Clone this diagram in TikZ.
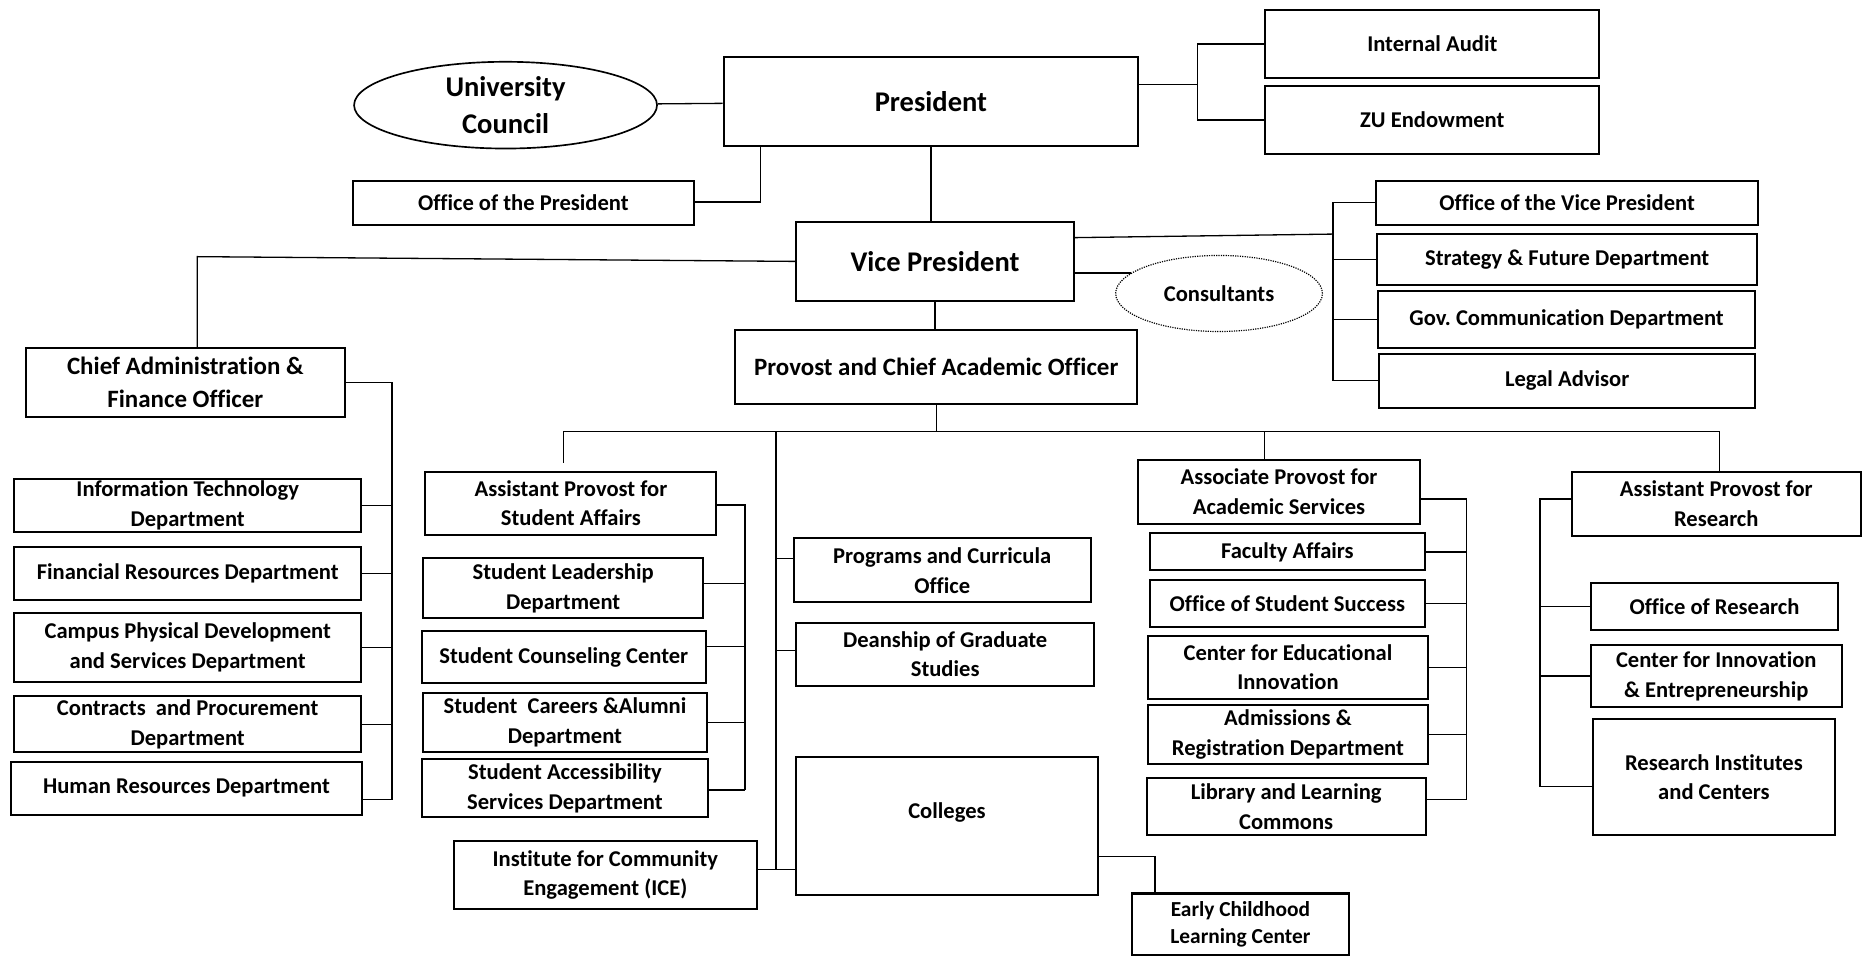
\documentclass[tikz,border=0pt]{standalone}
\usepackage{fontspec}
\setmainfont{Carlito}[Ligatures=NoCommon]
\usepackage{tikz}
\usetikzlibrary{shapes.geometric,positioning}
\frenchspacing

\begin{document}
\begin{tikzpicture}[x=1pt, y=-1pt,
                every node/.append style = {font=\bfseries\fontsize{19}{25}\selectfont, align=center, inner sep=0pt},
                unit/.style = {draw, line width=1.7pt},
                sz/.style 2 args = {minimum width=#1pt, minimum height=#2pt},
                big/.style = {font=\bfseries\fontsize{24}{31}\selectfont},
                mid/.style = {font=\bfseries\fontsize{21}{28}\selectfont},
                link/.style = {line width=1.1pt}]
\useasboundingbox (0,0) rectangle (1568,804);
% top
\node[draw, ellipse, line width=1.4pt, sz={255}{73}, big] (uc) at (425.5,88.5) {University\\Council};
\node[unit, sz={349}{75}, big] (pres) at (783.5,85.5) {President};
\node[unit, sz={287}{37}] (op) at (440.5,170.5) {Office of the President};
\node[unit, sz={281}{58}] (audit) at (1205.5,37) {Internal Audit};
\node[unit, sz={281}{58}] (endow) at (1205.5,101) {ZU Endowment};
\node[unit, sz={234}{66}, big] (vp) at (787,220) {Vice President};
\node[unit, sz={322}{37}] (ovp) at (1319,170.5) {Office of the Vice President};
\node[unit, sz={320}{43}] (strat) at (1319,218.5) {Strategy \& Future Department};
\node[unit, sz={317}{48}] (gov) at (1318.5,269) {Gov. Communication Department};
\node[unit, sz={316}{45}] (legal) at (1319,320.5) {Legal Advisor};
\node[draw, ellipse, densely dotted, line width=1pt, sz={174}{64}] (cons) at (1026,247) {Consultants};
\node[unit, sz={268}{58}, mid] (cafo) at (156,322) {Chief Administration \&\\Finance Officer};
\node[unit, sz={338}{62}, mid] (prov) at (788,309) {Provost and Chief Academic Officer};
% administration
\node[unit, sz={292}{45}] (it) at (158,425.5) {Information Technology\\Department};
\node[unit, sz={292}{45}] (fin) at (158,482.5) {Financial Resources Department};
\node[unit, sz={292}{58}] (campus) at (158,545) {Campus Physical Development\\and Services Department};
\node[unit, sz={292}{47}] (contr) at (158,609.5) {Contracts~ and Procurement\\Department};
\node[unit, sz={296}{45}] (hr) at (157,663.5) {Human Resources Department};
% student affairs
\node[unit, sz={245}{53}] (apsa) at (480.5,423.5) {Assistant Provost for\\Student Affairs};
\node[unit, sz={236}{50}] (lead) at (474,495) {Student Leadership\\Department};
\node[unit, sz={239}{44}] (couns) at (474.5,553) {Student Counseling Center};
\node[unit, sz={239}{50}] (career) at (475.5,608) {Student~ Careers \&Alumni\\Department};
\node[unit, sz={241}{49}] (access) at (475.5,663.5) {Student Accessibility\\Services Department};
\node[unit, sz={255}{57}] (ice) at (509.5,736.5) {Institute for Community\\Engagement (ICE)};
% academic
\node[unit, sz={250}{54}] (prog) at (793,480) {Programs and Curricula\\Office};
\node[unit, sz={251}{53}] (dean) at (795.5,550.5) {Deanship of Graduate\\Studies};
\node[unit, sz={254}{116}, text depth=26pt] (coll) at (797,695) {Colleges};
\node[unit, sz={182}{52}, font=\bfseries\fontsize{18}{23}\selectfont] (ecl) at (1044,778) {Early Childhood\\Learning Center};
\node[unit, sz={237}{54}] (apas) at (1076.5,414) {Associate Provost for\\Academic Services};
\node[unit, sz={231}{31}] (fac) at (1083.5,464.5) {Faculty Affairs};
\node[unit, sz={231}{40}] (oss) at (1083.5,508) {Office of Student Success};
\node[unit, sz={236}{53}] (cei) at (1084,561.5) {Center for Educational\\Innovation};
\node[unit, sz={236}{50}] (adm) at (1084,618) {Admissions \&\\Registration Department};
\node[unit, sz={235}{48}] (lib) at (1082.5,679) {Library and Learning\\Commons};
% research
\node[unit, sz={243}{54}] (apr) at (1444.5,424) {Assistant Provost for\\Research};
\node[unit, sz={208}{39}] (ores) at (1443,510.5) {Office of Research};
\node[unit, sz={211}{52}] (cie) at (1444.5,569) {Center for Innovation\\\& Entrepreneurship};
\node[unit, sz={203}{98}] (ric) at (1442.5,654) {Research Institutes\\and Centers};
% connectors
\coordinate (pa) at (640,170);
\coordinate (pb) at (1008,71);
\coordinate (va) at (166,216);
\coordinate (vb) at (1122,197);
\coordinate (ca) at (330,322);
\coordinate (cz) at (330,673);
\draw[link] (uc) -- (pres);
\draw[link] (op.east |- pa) -- (pa) -- (pa |- pres.south);
\draw[link] (pres.east |- pb) -- (pb);
\draw[link] (audit.west) -| (pb) |- (endow.west);
\draw[link] (pres) -- (pres |- vp.north);
\draw[link] (vp.west) -- (va) -- (va |- cafo.north);
\draw[link] ([yshift=20pt]vp.east) -- (vb);
\draw[link] (ovp.west) -| (vb) |- (legal.west);
\foreach \n in {strat,gov} \draw[link] (\n.west) -- (\n.west -| vb);
\draw[link] (cons.167) -- (cons.167 -| vp.east);
\draw[link] (cafo.east) -- (ca) -- (cz);
\foreach \n in {it,fin,campus,contr} \draw[link] (ca) |- (\n.east);
\draw[link] (hr.east |- cz) -- (cz);
\draw[link] (vp) -- (vp |- prov.north);
\coordinate (bus) at (788,363);
\coordinate (ba) at (474,363);
\coordinate (bae) at (474,390);
\coordinate (bb) at (653,363);
\coordinate (bz) at (653,732);
\coordinate (bc) at (1064,363);
\coordinate (bd) at (1447,363);
\draw[link] (prov) -- (bus);
\draw[link] (ba) -- (bd);
\draw[link] (ba) -- (bae);
\draw[link] (bc) -- (bc |- apas.north);
\draw[link] (bd) -- (bd |- apr.north);
\draw[link] (bb) -- (bz);
\draw[link] (bz) |- ([yshift=10pt]prog.west);
\draw[link] (bz) |- ([yshift=3pt]dean.west);
\draw[link] (ice.east |- bz) -- (bz) -- (bz -| coll.west);
\coordinate (ce) at (972,721);
\draw[link] (coll.east |- ce) -- (ce) -- (ce |- ecl.north);
\coordinate (sa) at (627,425);
\coordinate (sz) at (627,665);
\draw[link] (apsa.east |- sa) -- (sa) -- (sz);
\draw[link] (sa) |- ([yshift=4pt]lead.east);
\draw[link] (sa) |- ([yshift=9pt]couns.east);
\draw[link] (sa) |- (career.east);
\draw[link] (access.east |- sz) -- (sz);
\coordinate (aa) at (1234,420);
\coordinate (az) at (1234,673);
\draw[link] (apas.east |- aa) -- (aa) -- (az);
\foreach \n in {fac,oss,cei,adm} \draw[link] (aa) |- (\n.east);
\draw[link] (lib.east |- az) -- (az);
\coordinate (ra) at (1296,420);
\coordinate (rz) at (1296,662);
\draw[link] (apr.west |- ra) -- (ra) -- (rz);
\draw[link] (ra) |- (ores.west);
\draw[link] (ra) |- (cie.west);
\draw[link] (ric.west |- rz) -- (rz);
\end{tikzpicture}
\end{document}
